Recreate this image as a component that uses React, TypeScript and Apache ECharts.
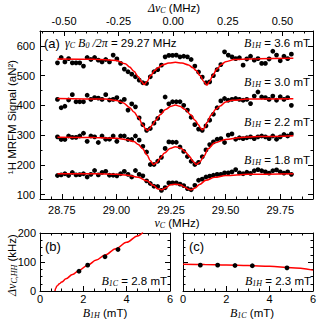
import React, { useEffect, useRef } from 'react';
import * as echarts from 'echarts';

// ---------- data ----------
const FREQ_MHZ = [
  28.730, 28.747, 28.764, 28.781, 28.798, 28.815, 28.832, 28.849, 28.866, 28.883,
  28.900, 28.917, 28.934, 28.951, 28.968, 28.985, 29.002, 29.019, 29.036, 29.053,
  29.070, 29.087, 29.104, 29.121, 29.138, 29.155, 29.172, 29.189, 29.206, 29.223,
  29.240, 29.257, 29.274, 29.291, 29.308, 29.325, 29.342, 29.359, 29.376, 29.393,
  29.410, 29.427, 29.444, 29.461, 29.478, 29.495, 29.512, 29.529, 29.546, 29.563,
  29.580, 29.597, 29.614, 29.631, 29.648, 29.665, 29.682, 29.699, 29.716, 29.733,
  29.750, 29.767, 29.784, 29.801,
];

const SIG_36 = [
  543, 561, 546, 557, 543, 543, 543, 532, 561, 554,
  561, 552, 546, 554, 546, 569, 556, 541, 522, 513,
  505, 496, 485, 476, 474, 496, 513, 520, 535, 563,
  568, 568, 569, 563, 565, 563, 554, 532, 512, 495,
  476, 479, 500, 520, 537, 580, 569, 563, 557, 560,
  535, 556, 565, 552, 557, 541, 541, 556, 582, 569,
  550, 565, 557, 572,
];
const SIG_30 = [
  420, 392, 397, 418, 436, 412, 412, 412, 434, 420,
  426, 424, 420, 436, 418, 420, 426, 412, 420, 384,
  405, 395, 358, 335, 316, 322, 340, 356, 380, 428,
  405, 412, 412, 412, 400, 384, 360, 335, 320, 316,
  331, 350, 370, 392, 415, 423, 417, 420, 423, 420,
  417, 420, 406, 431, 445, 428, 426, 420, 431, 417,
  429, 420, 426, 400,
];
const SIG_22 = [
  294, 285, 285, 297, 292, 292, 297, 306, 279, 297,
  294, 275, 297, 286, 286, 297, 279, 297, 297, 285,
  285, 297, 283, 262, 243, 201, 201, 212, 225, 255,
  277, 276, 276, 260, 245, 228, 212, 201, 208, 227,
  250, 268, 277, 286, 288, 275, 300, 304, 286, 291,
  288, 291, 294, 288, 294, 297, 294, 288, 297, 286,
  294, 302, 297, 304,
];
const SIG_18 = [
  164, 166, 170, 164, 174, 166, 167, 170, 159, 168,
  181, 166, 174, 178, 165, 165, 163, 170, 178, 168,
  159, 181, 168, 163, 146, 137, 128, 127, 114, 123,
  139, 139, 139, 135, 130, 120, 116, 131, 148, 152,
  159, 162, 165, 168, 168, 173, 173, 176, 184, 173,
  170, 175, 171, 180, 184, 180, 176, 172, 180, 183,
  176, 172, 176, 168,
];

const FIT36_X = [28.73, 28.90, 29.00, 29.04, 29.06, 29.08, 29.10, 29.115, 29.127, 29.14, 29.157, 29.175, 29.19, 29.21, 29.24, 29.27, 29.30, 29.33, 29.35, 29.365, 29.383, 29.40, 29.414, 29.427, 29.44, 29.46, 29.48, 29.50, 29.54, 29.65, 29.81];
const FIT36_Y = [556, 555, 551, 540, 529, 515, 496, 480, 470, 480, 500, 517, 526, 536, 542, 545, 542, 536, 526, 517, 500, 480, 468, 480, 500, 522, 537, 547, 554, 557, 558];

const FIT30_X = [28.73, 28.95, 29.00, 29.03, 29.06, 29.08, 29.10, 29.12, 29.132, 29.142, 29.152, 29.165, 29.18, 29.20, 29.225, 29.25, 29.27, 29.29, 29.315, 29.34, 29.36, 29.375, 29.385, 29.393, 29.403, 29.415, 29.435, 29.455, 29.475, 29.50, 29.53, 29.60, 29.81];
const FIT30_Y = [423, 421, 416, 409, 393, 378, 360, 335, 322, 315, 322, 335, 350, 368, 386, 397, 401, 397, 386, 368, 350, 335, 324, 318, 324, 343, 368, 387, 398, 411, 417, 421, 422];

const FIT22_X = [28.73, 28.90, 29.00, 29.05, 29.08, 29.10, 29.12, 29.14, 29.155, 29.17, 29.185, 29.20, 29.22, 29.245, 29.27, 29.295, 29.315, 29.335, 29.35, 29.365, 29.38, 29.40, 29.42, 29.45, 29.50, 29.57, 29.65, 29.81];
const FIT22_Y = [293, 292, 289, 284, 278, 268, 254, 233, 214, 201, 208, 222, 240, 255, 261, 256, 244, 228, 212, 201, 208, 228, 254, 274, 285, 292, 295, 298];

const FIT18_X = [28.73, 28.90, 29.00, 29.05, 29.10, 29.14, 29.17, 29.19, 29.207, 29.225, 29.245, 29.27, 29.295, 29.315, 29.33, 29.343, 29.36, 29.38, 29.41, 29.45, 29.50, 29.60, 29.81];
const FIT18_Y = [170, 170, 168, 165, 158, 146, 130, 119, 116, 122, 132, 135, 132, 124, 118, 116, 122, 134, 148, 158, 164, 168, 170];

const TRACE_LABELS = ['3.6', '3.0', '2.2', '1.8'];

// panel (b)
const B1H_MT = [1.8, 2.2, 3.0, 3.6];
const DNU_B_KHZ = [68, 89, 118, 143];
const FITB_X = [0.69, 0.72, 0.78, 0.9, 1.0, 1.2, 1.5, 1.8, 2.2, 2.6, 3.0, 3.5, 4.0, 4.5, 4.75];
const FITB_Y = [0, 9, 17, 25, 31, 42, 57, 71, 89, 107, 124, 146, 168, 190, 202];

// panel (c)
const B1C_MT = [0.8, 1.6, 2.4, 3.2, 4.8];
const DNU_C_KHZ = [89, 89, 88, 87, 80];
const FITC_X = [0, 1, 2, 3, 4, 5, 6];
const FITC_Y = [92, 91.5, 90, 88, 85, 80, 72];

// ---------- styling ----------
const SANS = 'Liberation Sans, Arial, sans-serif';
const SERIF = 'Liberation Serif, Times New Roman, serif';
const RED = '#ff0000';

const RICH: any = {
  i: { fontFamily: SERIF, fontStyle: 'italic', fontSize: 12, lineHeight: 13, color: '#000' },
  s: { fontFamily: SERIF, fontStyle: 'italic', fontSize: 8, lineHeight: 7, verticalAlign: 'bottom', color: '#000' },
  n: { fontFamily: SANS, fontSize: 11.5, lineHeight: 13, color: '#000' },
  p: { fontFamily: SANS, fontSize: 13, lineHeight: 14, color: '#000' },
};

const isMult = (v: number, s: number) => Math.abs(v / s - Math.round(v / s)) < 1e-9;

function axis(gridIndex: number, position: string, min: number, max: number, step: number, major: boolean, fmt?: (v: number) => string, margin = 5) {
  const intervalPart = isMult(min, step) ? { interval: step } : { minInterval: step, maxInterval: step };
  return {
    type: 'value',
    gridIndex,
    position,
    min,
    max,
    ...intervalPart,
    axisLine: { show: major, onZero: false, lineStyle: { color: '#000', width: 1 } },
    axisTick: { show: true, inside: true, length: major ? 5 : 2.5, lineStyle: { color: '#000', width: 1 } },
    axisLabel: fmt
      ? {
          show: true,
          formatter: fmt,
          color: '#000',
          fontSize: 11,
          fontFamily: SANS,
          margin,
          showMinLabel: isMult(min, step),
          showMaxLabel: isMult(max, step),
        }
      : { show: false },
    splitLine: { show: false },
    minorTick: { show: false },
  };
}

const f2 = (v: number) => v.toFixed(2);
const f0 = (v: number) => String(Math.round(v));

const XMIN = 28.65, XMAX = 29.9, NU0 = 29.26;
const xAxes = [
  axis(0, 'bottom', XMIN, XMAX, 0.25, true, f2, 5),
  axis(0, 'bottom', XMIN, XMAX, 0.05, false),
  axis(0, 'top', +(XMIN - NU0).toFixed(3), +(XMAX - NU0).toFixed(3), 0.25, true, f2, 5),
  axis(0, 'top', +(XMIN - NU0).toFixed(3), +(XMAX - NU0).toFixed(3), 0.05, false),
  axis(1, 'bottom', 0, 6, 2, true, f0, 2),
  axis(1, 'bottom', 0, 6, 0.5, false),
  axis(1, 'top', 0, 6, 2, true),
  axis(1, 'top', 0, 6, 0.5, false),
  axis(2, 'bottom', 0, 6, 2, true, f0, 2),
  axis(2, 'bottom', 0, 6, 0.5, false),
  axis(2, 'top', 0, 6, 2, true),
  axis(2, 'top', 0, 6, 0.5, false),
];
const yAxes = [
  axis(0, 'left', 85, 650, 100, true, f0, 5),
  axis(0, 'left', 85, 650, 50, false),
  axis(0, 'right', 85, 650, 100, true),
  axis(0, 'right', 85, 650, 50, false),
  axis(1, 'left', 0, 200, 100, true, f0, 4),
  axis(1, 'left', 0, 200, 25, false),
  axis(1, 'right', 0, 200, 100, true),
  axis(1, 'right', 0, 200, 25, false),
  axis(2, 'left', 0, 200, 100, true),
  axis(2, 'left', 0, 200, 25, false),
  axis(2, 'right', 0, 200, 100, true),
  axis(2, 'right', 0, 200, 25, false),
];

const traces = [
  { sig: SIG_36, fx: FIT36_X, fy: FIT36_Y },
  { sig: SIG_30, fx: FIT30_X, fy: FIT30_Y },
  { sig: SIG_22, fx: FIT22_X, fy: FIT22_Y },
  { sig: SIG_18, fx: FIT18_X, fy: FIT18_Y },
];

const scatterStyle = { color: '#000', opacity: 1 };
const lineSeries = (xi: number, data: number[][]) => ({
  type: 'line',
  xAxisIndex: xi,
  yAxisIndex: xi,
  data,
  showSymbol: false,
  smooth: 0.35,
  smoothMonotone: 'x',
  lineStyle: { color: RED, width: 1.5 },
  silent: true,
  z: 3,
});

const series: any[] = [];
traces.forEach((t) => {
  series.push({
    type: 'scatter',
    xAxisIndex: 0,
    yAxisIndex: 0,
    data: FREQ_MHZ.map((f, i) => [f, t.sig[i]]),
    symbolSize: 4.8,
    itemStyle: scatterStyle,
    z: 2,
  });
  series.push(lineSeries(0, t.fx.map((x, i) => [x, t.fy[i]])));
});
series.push(lineSeries(4, FITB_X.map((x, i) => [x, FITB_Y[i]])));
series.push({ type: 'scatter', xAxisIndex: 4, yAxisIndex: 4, data: B1H_MT.map((x, i) => [x, DNU_B_KHZ[i]]), symbolSize: 4.8, itemStyle: scatterStyle, z: 4 });
series.push(lineSeries(8, FITC_X.map((x, i) => [x, FITC_Y[i]])));
series.push({ type: 'scatter', xAxisIndex: 8, yAxisIndex: 8, data: B1C_MT.map((x, i) => [x, DNU_C_KHZ[i]]), symbolSize: 4.8, itemStyle: scatterStyle, z: 4 });

const txt = (x: number, y: number, text: string, align = 'left', rotation = 0) => ({
  type: 'text',
  x,
  y,
  rotation,
  silent: true,
  style: { text, rich: RICH, align, verticalAlign: 'middle', fill: '#000', fontFamily: SANS, fontSize: 11 },
});

const labelYs = [43, 81.5, 122, 160];
const graphic = [
  txt(174, 8, '{i|Δν}{s|C}{n| (MHz)}', 'center'),
  txt(177, 223, '{i|ν}{s|C}{n| (MHz)}', 'center'),
  txt(12, 117, '{n|¹H MRFM Signal (aN²)}', 'center', Math.PI / 2),
  txt(44, 43, '{p|(a)}'),
  txt(65, 43, '{i|γ}{s|C}{i| B}{s|0}{i| /2π}{n| = 29.27 MHz}'),
  ...TRACE_LABELS.map((v, k) => txt(310, labelYs[k], `{i|B}{s|1H}{n| = ${v} mT}`, 'right')),
  txt(45, 246, '{p|(b)}'),
  txt(167, 281, '{i|B}{s|1C}{n| = 2.8 mT}', 'right'),
  txt(12, 265, '{i|Δν}{s|C,HH}{n| (kHz)}', 'center', Math.PI / 2),
  txt(105, 312.5, '{i|B}{s|1H}{n| (mT)}', 'center'),
  txt(189, 246, '{p|(c)}'),
  txt(311, 281, '{i|B}{s|1H}{n| = 2.3 mT}', 'right'),
  txt(252, 312.5, '{i|B}{s|1C}{n| (mT)}', 'center'),
];

const option: any = {
  animation: false,
  backgroundColor: '#fff',
  textStyle: { fontFamily: SANS },
  grid: [
    { left: 40, top: 31, width: 273, height: 168 },
    { left: 40, top: 233, width: 130, height: 58 },
    { left: 183, top: 233, width: 130, height: 58 },
  ],
  xAxis: xAxes,
  yAxis: yAxes,
  series,
  graphic,
};

export default function App() {
  const ref = useRef<HTMLDivElement>(null);
  useEffect(() => {
    const chart = echarts.init(ref.current!, undefined, { renderer: 'svg' });
    chart.setOption(option);
    return () => chart.dispose();
  }, []);
  return <div ref={ref} style={{ position: 'absolute', left: 0, top: 0, width: 320, height: 320 }} />;
}
